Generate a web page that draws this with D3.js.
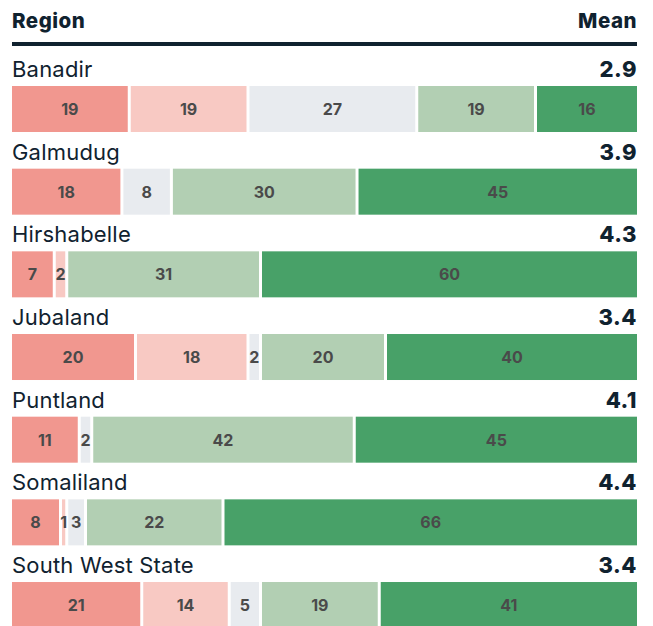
<!DOCTYPE html>
<html>
<head>
<meta charset="utf-8">
<title>Region means</title>
<script src="https://cdn.jsdelivr.net/npm/d3@7"></script>
<style>
  body { margin: 0; background: #fff; }
  svg text { font-family: Inter, "Open Sans", sans-serif; }
  .head { font-weight: 800; font-size: 20.5px; fill: #10222f; letter-spacing: 0.5px; }
  .region { font-size: 22px; fill: #10222f; letter-spacing: 0.2px; }
  .mean { font-size: 22px; font-weight: 800; fill: #10222f; text-anchor: end; letter-spacing: 0.5px; }
  .val { font-size: 16px; font-weight: 700; fill: #4a4a4a; text-anchor: middle; }
</style>
</head>
<body>
<script>
// data
var regions = ["Banadir", "Galmudug", "Hirshabelle", "Jubaland", "Puntland", "Somaliland", "South West State"];
var means = ["2.9", "3.9", "4.3", "3.4", "4.1", "4.4", "3.4"];
// five answer levels, from very negative to very positive
var levels = ["vneg", "neg", "neutral", "pos", "vpos"];
var values = [
  [19, 19, 27, 19, 16],
  [18, 0, 8, 30, 45],
  [7, 2, 0, 31, 60],
  [20, 18, 2, 20, 40],
  [11, 0, 2, 42, 45],
  [8, 1, 3, 22, 66],
  [21, 14, 5, 19, 41]
];
var colors = ["#f1978f", "#f8c9c3", "#e8ebef", "#b2cfb3", "#48a168"];

var width = 653, height = 626;
var left = 12, right = 637;
var gap = 3;

var svg = d3.select("body").append("svg").attr("width", width).attr("height", height);

var color = d3.scaleOrdinal().domain(levels).range(colors);

var y = d3.scaleBand().domain(regions).range([52, 52 + 7 * 82.67]);

// header
svg.append("text").attr("class", "head").attr("x", left).attr("y", 28).text("Region");
svg.append("text").attr("class", "head").attr("x", right).attr("y", 28).attr("text-anchor", "end").text("Mean");
svg.append("rect").attr("x", left).attr("y", 42).attr("width", right - left).attr("height", 4).attr("fill", "#10222f");

var rows = svg.selectAll("g.row")
  .data(regions)
  .enter().append("g")
  .attr("class", "row")
  .attr("transform", function(d) { return "translate(0," + y(d) + ")"; });

rows.append("text").attr("class", "region").attr("x", left).attr("y", 25).text(function(d) { return d; });
rows.append("text").attr("class", "mean").attr("x", right).attr("y", 25).text(function(d, i) { return means[i]; });

rows.each(function(d, i) {
  var vals = values[i];
  var total = d3.sum(vals);
  var x = d3.scaleLinear().domain([0, total]).range([left, right]);
  var segs = [];
  var cum = 0;
  vals.forEach(function(v, k) {
    if (v > 0) segs.push({ level: levels[k], v: v, start: cum });
    cum += v;
  });
  var g = d3.select(this);
  g.selectAll("rect.seg")
    .data(segs)
    .enter().append("rect")
    .attr("class", "seg")
    .attr("x", function(s) { return x(s.start); })
    .attr("y", 34)
    .attr("width", function(s, j) {
      var w = x(s.start + s.v) - x(s.start);
      return j == segs.length - 1 ? w : w - gap;
    })
    .attr("height", 46)
    .attr("fill", function(s) { return color(s.level); });
  g.selectAll("text.val")
    .data(segs)
    .enter().append("text")
    .attr("class", "val")
    .attr("x", function(s, j) {
      var w = x(s.start + s.v) - x(s.start);
      if (j != segs.length - 1) w -= gap;
      return x(s.start) + w / 2;
    })
    .attr("y", 63)
    .text(function(s) { return s.v; });
});
</script>
</body>
</html>
